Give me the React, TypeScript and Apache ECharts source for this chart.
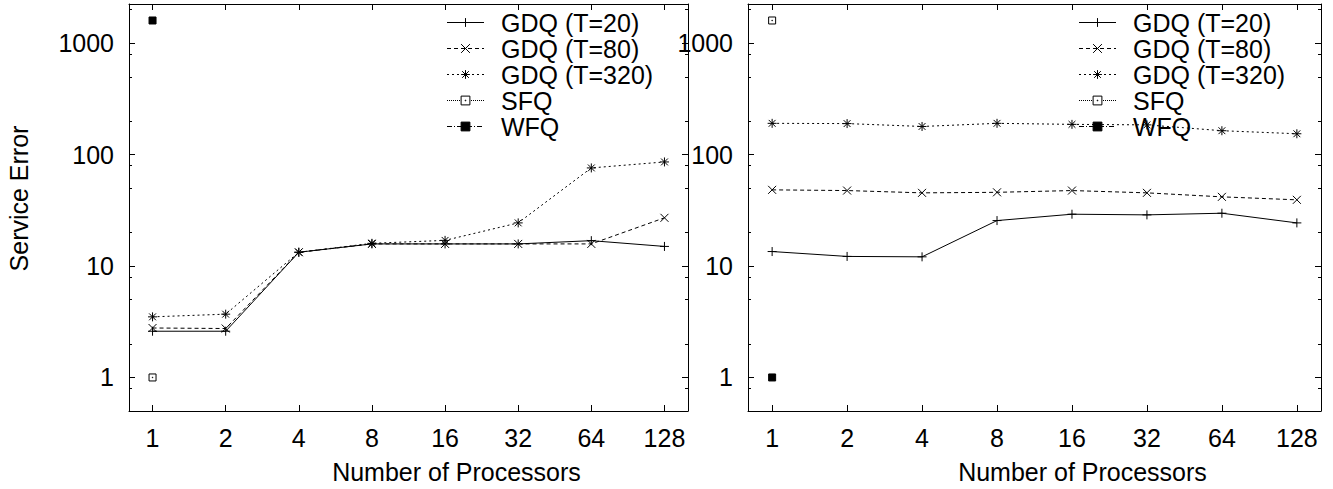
import React, { useEffect, useRef } from "react";
import * as echarts from "echarts";

// ---- data ----
const processors = [1, 2, 4, 8, 16, 32, 64, 128];

const gdq20Left = [2.6, 2.6, 13.3, 15.8, 15.8, 15.8, 16.9, 15.0];
const gdq80Left = [2.78, 2.75, 13.3, 15.8, 15.8, 15.8, 15.8, 27.1];
const gdq320Left = [3.5, 3.7, 13.3, 16.0, 17.0, 24.4, 76, 86];
const sfqLeft = [[1, 1]];
const wfqLeft = [[1, 1600]];

const gdq20Right = [13.5, 12.2, 12.1, 25.6, 29.2, 28.8, 29.8, 24.4];
const gdq80Right = [48.3, 47.6, 45.4, 45.9, 47.6, 45.4, 41.8, 39.3];
const gdq320Right = [191, 190, 179, 191, 187, 185, 164, 154];
const sfqRight = [[1, 1600]];
const wfqRight = [[1, 1]];

const seriesNames = ["GDQ (T=20)", "GDQ (T=80)", "GDQ (T=320)", "SFQ", "WFQ"];
const xTickValues = [1, 2, 4, 8, 16, 32, 64, 128];
const yMajorTicks = [1, 10, 100, 1000];
const yMinorTicks = [0.8, 2, 5, 8, 20, 50, 80, 200, 500, 800, 2000];
const xRange = [0.8, 160];
const yRange = [0.5, 2250];

const xTitle = "Number of Processors";
const yTitle = "Service Error";

// ---- styling ----
const FONT = "'Liberation Sans', Arial, Helvetica, sans-serif";
const FS = 25;
const BLACK = "#000";

const SYM_PLUS = "path://M5,0L5,10M0,5L10,5";
const SYM_CROSS = "path://M0,0L10,10M0,10L10,0";
const SYM_STAR = "path://M5,0L5,10M0,5L10,5M1.2,1.2L8.8,8.8M1.2,8.8L8.8,1.2";
const SYM_BOXDOT = "path://M0,0L10,0L10,10L0,10ZM4.6,4.6L5.4,4.6L5.4,5.4L4.6,5.4Z";

const lx = (v: number) => Math.log2(v);
const ly = (v: number) => Math.log10(v);

const styles = [
  { symbol: SYM_PLUS, size: 9, dash: "solid" as any, fill: BLACK },
  { symbol: SYM_CROSS, size: 8, dash: [4, 3], fill: BLACK },
  { symbol: SYM_STAR, size: 9, dash: [2, 3], fill: BLACK },
  { symbol: SYM_BOXDOT, size: 7, dash: [1, 1], fill: "#fff" },
  { symbol: "rect", size: 7, dash: [5, 2, 1, 2], fill: BLACK },
];

function makeSeries(name: string, idx: number, data: number[][], xi: number, yi: number) {
  const s = styles[idx];
  return {
    type: "line",
    name,
    xAxisIndex: xi,
    yAxisIndex: yi,
    data: data.map(([x, y]) => [lx(x), ly(y)]),
    symbol: s.symbol,
    symbolSize: s.size,
    showSymbol: true,
    showAllSymbol: true,
    lineStyle: { color: BLACK, width: 1, type: s.dash },
    itemStyle: { color: s.fill, borderColor: BLACK, borderWidth: 1 },
    emphasis: { disabled: true },
    z: idx === 4 ? 3 : 2,
  };
}

function gridAxes(gridIndex: number, withYName: boolean) {
  const tickMajorX = xTickValues.map(lx);
  const xCommon = {
    gridIndex,
    type: "value",
    min: lx(xRange[0]),
    max: lx(xRange[1]),
    splitLine: { show: false },
    axisLine: { show: true, onZero: false, lineStyle: { color: BLACK, width: 1 } },
  };
  const xAxes = [
    {
      ...xCommon,
      position: "bottom",
      axisTick: { show: true, inside: true, length: 6, lineStyle: { color: BLACK }, customValues: tickMajorX },
      axisLabel: {
        show: true,
        customValues: tickMajorX,
        formatter: (v: number) => String(Math.round(Math.pow(2, v))),
        color: BLACK,
        fontSize: FS,
        fontFamily: FONT,
        margin: 14,
      },
      name: xTitle,
      nameLocation: "middle",
      nameGap: 48,
      nameTextStyle: { color: BLACK, fontSize: FS, fontFamily: FONT, padding: [0, 0, 0, 96] },
    },
    {
      ...xCommon,
      position: "top",
      axisTick: { show: true, inside: true, length: 6, lineStyle: { color: BLACK }, customValues: tickMajorX },
      axisLabel: { show: false },
    },
  ];
  const yCommon = {
    gridIndex,
    type: "value",
    min: ly(yRange[0]),
    max: ly(yRange[1]),
    splitLine: { show: false },
  };
  const maj = yMajorTicks.map(ly);
  const min = yMinorTicks.map(ly);
  const yAxes = [
    {
      ...yCommon,
      position: "left",
      axisLine: { show: true, onZero: false, lineStyle: { color: BLACK, width: 1 } },
      axisTick: { show: true, inside: true, length: 6, lineStyle: { color: BLACK }, customValues: maj },
      axisLabel: {
        show: true,
        customValues: maj,
        formatter: (v: number) => String(Math.round(Math.pow(10, v))),
        color: BLACK,
        fontSize: FS,
        fontFamily: FONT,
        margin: 15,
      },
      ...(withYName
        ? {
            name: yTitle,
            nameLocation: "middle",
            nameGap: 98,
            nameTextStyle: { color: BLACK, fontSize: FS, fontFamily: FONT, padding: [0, 0, 0, 18] },
          }
        : {}),
    },
    {
      ...yCommon,
      position: "left",
      axisLine: { show: false, onZero: false },
      axisTick: { show: true, inside: true, length: 3, lineStyle: { color: BLACK }, customValues: min },
      axisLabel: { show: false },
    },
    {
      ...yCommon,
      position: "right",
      axisLine: { show: true, onZero: false, lineStyle: { color: BLACK, width: 1 } },
      axisTick: { show: true, inside: true, length: 6, lineStyle: { color: BLACK }, customValues: maj },
      axisLabel: { show: false },
    },
    {
      ...yCommon,
      position: "right",
      axisLine: { show: false, onZero: false },
      axisTick: { show: true, inside: true, length: 3, lineStyle: { color: BLACK }, customValues: min },
      axisLabel: { show: false },
    },
  ];
  return { xAxes, yAxes };
}

function legendAt(left: number) {
  return {
    show: true,
    orient: "vertical",
    left,
    top: 9.5,
    padding: 0,
    itemGap: 0,
    itemWidth: 37,
    itemHeight: 11,
    data: seriesNames,
    selectedMode: false,
    lineStyle: { width: 1 },
    itemStyle: { borderWidth: 1 },
    textStyle: {
      color: BLACK,
      fontSize: FS,
      fontFamily: FONT,
      lineHeight: 26,
      padding: [0, 0, 0, 12],
    },
  };
}

export default function App() {
  const ref = useRef<HTMLDivElement>(null);
  useEffect(() => {
    if (!ref.current) return;
    const chart = echarts.init(ref.current, undefined, { renderer: "svg" });
    const g0 = gridAxes(0, true);
    const g1 = gridAxes(1, false);
    const pts = (arr: number[]) => processors.map((p, i) => [p, arr[i]]);
    const series = [
      makeSeries(seriesNames[0], 0, pts(gdq20Left), 0, 0),
      makeSeries(seriesNames[1], 1, pts(gdq80Left), 0, 0),
      makeSeries(seriesNames[2], 2, pts(gdq320Left), 0, 0),
      makeSeries(seriesNames[3], 3, sfqLeft, 0, 0),
      makeSeries(seriesNames[4], 4, wfqLeft, 0, 0),
      makeSeries(seriesNames[0], 0, pts(gdq20Right), 2, 4),
      makeSeries(seriesNames[1], 1, pts(gdq80Right), 2, 4),
      makeSeries(seriesNames[2], 2, pts(gdq320Right), 2, 4),
      makeSeries(seriesNames[3], 3, sfqRight, 2, 4),
      makeSeries(seriesNames[4], 4, wfqRight, 2, 4),
    ];
    chart.setOption({
      animation: false,
      backgroundColor: "#fff",
      textStyle: { fontFamily: FONT },
      grid: [
        { left: 129, top: 4, width: 559, height: 407 },
        { left: 748, top: 4, width: 573, height: 407 },
      ],
      xAxis: [...g0.xAxes, ...g1.xAxes],
      yAxis: [...g0.yAxes, ...g1.yAxes],
      legend: [legendAt(446.5), legendAt(1078.5)],
      series,
    } as any);
    return () => chart.dispose();
  }, []);
  return (
    <div
      ref={ref}
      style={{ position: "absolute", left: 0, top: 0, width: 1333, height: 489 }}
    />
  );
}
